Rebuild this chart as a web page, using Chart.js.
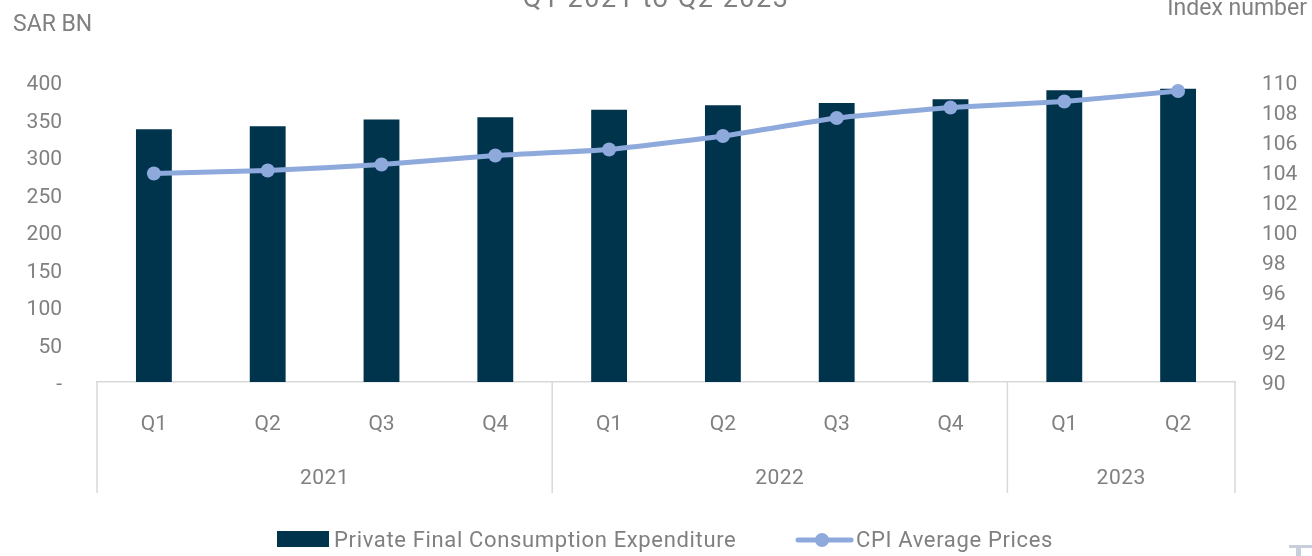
<!DOCTYPE html>
<html>
<head>
<meta charset="utf-8">
<script src="https://cdn.jsdelivr.net/npm/chart.js@4"></script>
<style>
  html, body { margin: 0; padding: 0; background: #ffffff; }
  #wrap { width: 1312px; height: 556px; position: relative; }
</style>
</head>
<body>
<div id="wrap"><canvas id="c" width="1312" height="556"></canvas></div>
<script>
// ---- data ----
const quarters = ['Q1','Q2','Q3','Q4','Q1','Q2','Q3','Q4','Q1','Q2'];
const years = ['2021','2022','2023'];
const yearSpans = [4, 4, 2];
const pfce = [337, 341, 350, 353, 363, 369, 372, 377, 389, 391];
const cpi = [103.9, 104.1, 104.5, 105.1, 105.5, 106.4, 107.6, 108.3, 108.7, 109.4];
const leftTicks = [0, 50, 100, 150, 200, 250, 300, 350, 400];
const rightTicks = [90, 92, 94, 96, 98, 100, 102, 104, 106, 108, 110];
const seriesNames = ['Private Final Consumption Expenditure', 'CPI Average Prices'];
const titleText = 'Q1 2021 to Q2 2023';
const leftUnit = 'SAR BN';
const rightUnit = 'Index number';

const BAR = '#00334C';
const LINE = '#8EA9DB';
const TXT = '#808080';
const GRID = '#D9D9D9';
const FONT = 'Roboto, "DejaVu Sans", sans-serif';
const FS = 21;

const decor = {
  id: 'decor',
  afterDraw(chart) {
    const ctx = chart.ctx;
    const x = chart.scales.x;
    const area = chart.chartArea;
    const step = x.getPixelForValue(1) - x.getPixelForValue(0);
    ctx.save();
    // group separators and year labels
    ctx.strokeStyle = GRID;
    ctx.lineWidth = 1.5;
    let idx = 0;
    const bounds = [x.getPixelForValue(0) - step / 2];
    yearSpans.forEach(s => { idx += s; bounds.push(x.getPixelForValue(idx - 1) + step / 2); });
    bounds.forEach(b => {
      ctx.beginPath();
      ctx.moveTo(b, area.bottom);
      ctx.lineTo(b, 493);
      ctx.stroke();
    });
    ctx.fillStyle = TXT;
    ctx.font = FS + 'px ' + FONT;
    ctx.textAlign = 'center';
    ctx.textBaseline = 'middle';
    ctx.letterSpacing = '0.5px';
    years.forEach((y, i) => {
      ctx.fillText(y, (bounds[i] + bounds[i + 1]) / 2, 479);
    });
    // title (cut off at top)
    ctx.font = '27px ' + FONT;
    ctx.letterSpacing = '1.5px';
    ctx.textBaseline = 'alphabetic';
    ctx.fillText(titleText, 656, 7);
    // axis units
    ctx.font = '23px ' + FONT;
    ctx.letterSpacing = '0px';
    ctx.textAlign = 'left';
    ctx.fillText(leftUnit, 13, 31);
    ctx.textAlign = 'right';
    ctx.fillText(rightUnit, 1307, 15);
    // legend
    ctx.fillStyle = BAR;
    ctx.fillRect(277, 531, 52, 16);
    ctx.fillStyle = TXT;
    ctx.font = '22px ' + FONT;
    ctx.letterSpacing = '0.65px';
    ctx.textAlign = 'left';
    ctx.textBaseline = 'middle';
    ctx.fillText(seriesNames[0], 334, 541);
    ctx.strokeStyle = LINE;
    ctx.lineWidth = 5;
    ctx.lineCap = 'round';
    ctx.beginPath();
    ctx.moveTo(798, 540);
    ctx.lineTo(851, 540);
    ctx.stroke();
    ctx.fillStyle = LINE;
    ctx.beginPath();
    ctx.arc(822, 540, 7, 0, Math.PI * 2);
    ctx.fill();
    ctx.fillStyle = TXT;
    ctx.fillText(seriesNames[1], 856, 541);
    // small artifact bottom right
    ctx.fillStyle = '#C9CFDA';
    ctx.fillRect(1289, 545, 23, 3);
    ctx.fillRect(1296, 545, 5, 11);
    ctx.restore();
  }
};

new Chart(document.getElementById('c'), {
  data: {
    labels: quarters,
    datasets: [
      {
        type: 'line',
        label: seriesNames[1],
        data: cpi,
        yAxisID: 'y1',
        borderColor: LINE,
        backgroundColor: LINE,
        borderWidth: 5,
        pointRadius: 7,
        pointHoverRadius: 7,
        pointBackgroundColor: LINE,
        pointBorderWidth: 0,
        tension: 0.15,
        order: 0
      },
      {
        type: 'bar',
        label: seriesNames[0],
        data: pfce,
        yAxisID: 'y',
        backgroundColor: BAR,
        borderWidth: 0,
        categoryPercentage: 1,
        barPercentage: 0.315,
        order: 1
      }
    ]
  },
  options: {
    responsive: false,
    animation: false,
    devicePixelRatio: 1,
    layout: { padding: { top: 82, bottom: 0, left: 0, right: 0 } },
    plugins: { legend: { display: false }, tooltip: { enabled: false }, title: { display: false } },
    scales: {
      x: {
        offset: true,
        grid: { display: false, drawTicks: false },
        border: { display: true, color: GRID, width: 1.5 },
        ticks: { color: TXT, font: { family: FONT, size: FS }, padding: 30, maxRotation: 0, autoSkip: false },
        afterFit(s) { s.height = 174; }
      },
      y: {
        position: 'left',
        min: 0, max: 400,
        afterBuildTicks(s) { s.ticks = leftTicks.map(v => ({ value: v })); },
        grid: { display: false, drawTicks: false },
        border: { display: false },
        ticks: {
          color: TXT, font: { family: FONT, size: FS }, padding: 35, labelOffset: 3,
          callback: v => v === 0 ? '-' : String(v)
        },
        afterFit(s) { s.width = 97; }
      },
      y1: {
        position: 'right',
        min: 90, max: 110,
        afterBuildTicks(s) { s.ticks = rightTicks.map(v => ({ value: v })); },
        grid: { display: false, drawTicks: false },
        border: { display: false },
        ticks: { color: TXT, font: { family: FONT, size: FS }, padding: 27, labelOffset: 3 },
        afterFit(s) { s.width = 77; }
      }
    }
  },
  plugins: [decor]
});
</script>
</body>
</html>
